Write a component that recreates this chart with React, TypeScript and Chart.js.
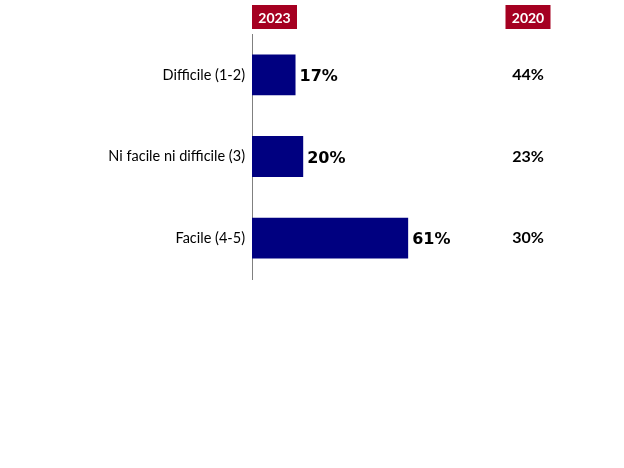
import React, { useEffect, useRef } from "react";
import { Chart, registerables } from "chart.js";

Chart.register(...registerables);

const categories = ["Difficile (1-2)", "Ni facile ni difficile (3)", "Facile (4-5)"];
const values2023 = [17, 20, 61];
const values2020 = [44, 23, 30];
const headerLabels = ["2023", "2020"];

const NAVY = "#000080";
const RED = "#A50021";

const overlayPlugin = {
  id: "overlay",
  afterDatasetsDraw(chart: any) {
    const { ctx, chartArea } = chart;
    const meta = chart.getDatasetMeta(0);
    ctx.save();
    // value labels next to bars
    ctx.font = "bold 16px 'DejaVu Sans'";
    ctx.fillStyle = "#000";
    ctx.textAlign = "left";
    ctx.textBaseline = "middle";
    meta.data.forEach((bar: any, i: number) => {
      ctx.fillText(values2023[i] + "%", bar.x + 4, bar.y + 2);
    });
    // 2020 column
    const col2020 = chartArea.right + 20;
    ctx.font = "bold 16px Lato";
    ctx.textAlign = "center";
    meta.data.forEach((bar: any, i: number) => {
      ctx.fillText(values2020[i] + "%", col2020, bar.y);
    });
    // header boxes
    const boxW = 45;
    const boxH = 24;
    const boxY = 5;
    const boxes = [chartArea.left + boxW / 2, col2020];
    ctx.font = "bold 14px Lato";
    boxes.forEach((cx, i) => {
      ctx.fillStyle = RED;
      ctx.fillRect(cx - boxW / 2, boxY, boxW, boxH);
      ctx.fillStyle = "#fff";
      ctx.fillText(headerLabels[i], cx, boxY + boxH / 2 + 1);
    });
    ctx.restore();
  },
};

export default function App() {
  const ref = useRef<HTMLCanvasElement>(null);
  useEffect(() => {
    if (!ref.current) return;
    const chart = new Chart(ref.current, {
      type: "bar",
      data: {
        labels: categories,
        datasets: [
          {
            data: values2023,
            backgroundColor: NAVY,
            borderWidth: 0,
            barPercentage: 0.5,
            categoryPercentage: 1,
          },
        ],
      },
      options: {
        indexAxis: "y",
        animation: false,
        responsive: false,
        layout: { padding: { top: 34, bottom: 189, right: 116, left: 0 } },
        plugins: { legend: { display: false }, tooltip: { enabled: false } },
        scales: {
          x: { display: false, min: 0, max: 100 },
          y: {
            grid: { display: false, drawTicks: false },
            border: { display: true, color: "#808080", width: 1 },
            ticks: {
              padding: 7,
              color: "#000",
              font: { family: "Lato", size: 14.5 },
            },
            afterFit(scale: any) {
              scale.width = 252;
            },
          },
        },
      },
      plugins: [overlayPlugin],
    });
    return () => chart.destroy();
  }, []);
  return (
    <div style={{ position: "absolute", left: 0, top: 0, width: 624, height: 468, background: "#fff" }}>
      <canvas ref={ref} width={624} height={468} />
    </div>
  );
}
